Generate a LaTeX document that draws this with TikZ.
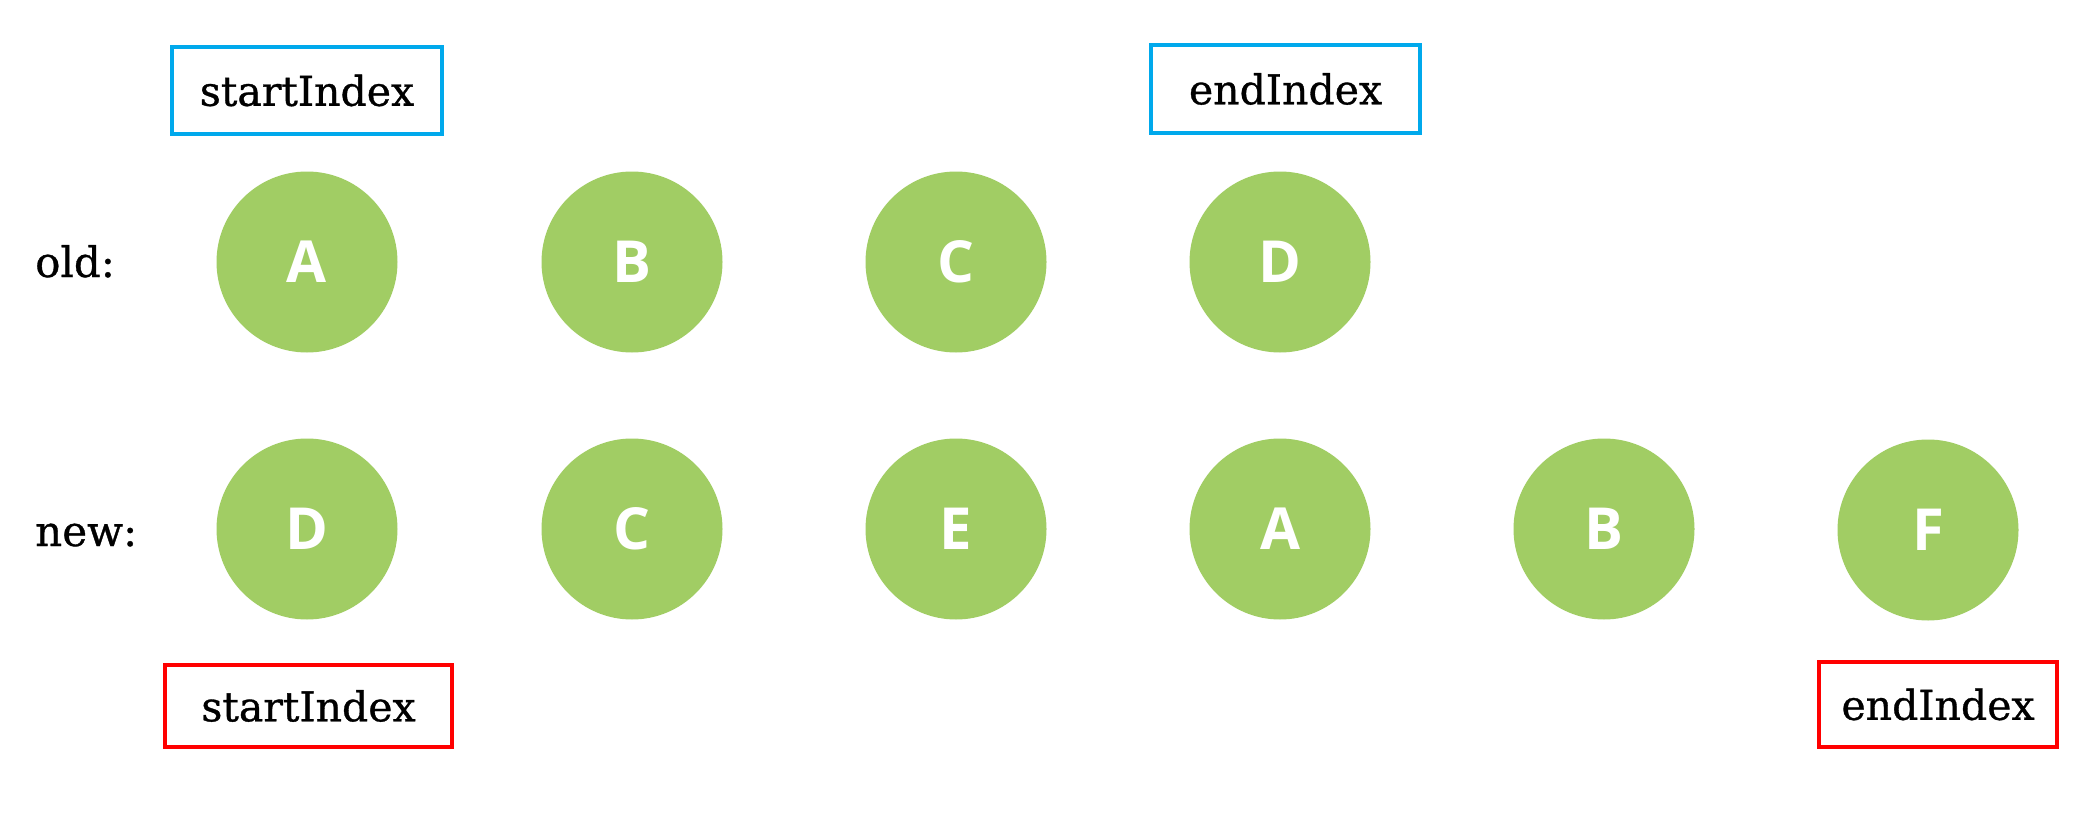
\documentclass[tikz,border=0pt]{standalone}
\usepackage{fontspec}
\setmainfont{DejaVu Serif}[FakeBold=0.8]
\newfontfamily\lettfont{Open Sans}
\definecolor{nodegreen}{HTML}{A1CD64}
\definecolor{boxblue}{HTML}{00A9EC}
\definecolor{boxred}{HTML}{FF0000}
\begin{document}
\begin{tikzpicture}[x=1pt,y=-1pt,
  vnode/.style={circle,fill=nodegreen,minimum size=181pt,inner sep=0pt,
    font=\lettfont\bfseries\fontsize{58}{62}\selectfont,text=white},
  idxbox/.style={draw,line width=3.5pt,inner sep=0pt,
    font=\fontsize{41}{48}\selectfont},
  rowlabel/.style={anchor=base west,inner sep=0pt,font=\fontsize{42}{48}\selectfont}]
\useasboundingbox[fill=white] (0,0) rectangle (2096,832);
% labels
\node[rowlabel] (oldlbl) at (35,277) {old:};
\node[rowlabel] (newlbl) at (35,546) {new:};
% old row
\node[vnode] (oA) at (307,262) {\raisebox{-4pt}{A}};
\node[vnode] (oB) at (632,262) {\raisebox{-4pt}{B}};
\node[vnode] (oC) at (956,262) {\raisebox{-4pt}{C}};
\node[vnode] (oD) at (1280,262) {\raisebox{-4pt}{D}};
% new row
\node[vnode] (nD) at (307,529) {\raisebox{-4pt}{D}};
\node[vnode] (nC) at (632,529) {\raisebox{-4pt}{C}};
\node[vnode] (nE) at (956,529) {\raisebox{-4pt}{E}};
\node[vnode] (nA) at (1280,529) {\raisebox{-4pt}{A}};
\node[vnode] (nB) at (1604,529) {\raisebox{-4pt}{B}};
\node[vnode] (nF) at (1928,530) {\raisebox{-4pt}{F}};
% index boxes
\node[idxbox,draw=boxblue,minimum width=270pt,minimum height=87pt] (os) at (307,90.5) {startIndex};
\node[idxbox,draw=boxblue,minimum width=269pt,minimum height=88pt] (oe) at (1285.5,89) {endIndex};
\node[idxbox,draw=boxred,minimum width=287pt,minimum height=82pt] (ns) at (308.5,706) {startIndex};
\node[idxbox,draw=boxred,minimum width=238pt,minimum height=85pt] (ne) at (1938,704.5) {endIndex};
\end{tikzpicture}
\end{document}
